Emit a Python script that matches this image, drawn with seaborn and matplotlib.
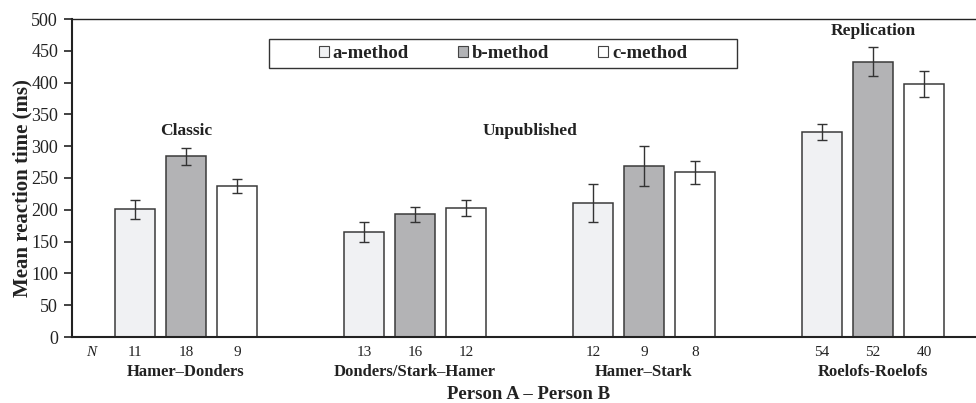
import matplotlib
matplotlib.use("Agg")
import matplotlib.pyplot as plt
from matplotlib.patches import Rectangle
from matplotlib.transforms import blended_transform_factory
import pandas as pd
import seaborn as sns

# --- data -------------------------------------------------------------
pairs = ["Hamer\u2013Donders", "Donders/Stark\u2013Hamer", "Hamer\u2013Stark", "Roelofs-Roelofs"]
methods = ["a-method", "b-method", "c-method"]
a_mean = [201, 165, 211, 322]
b_mean = [284, 193, 269, 433]
c_mean = [237, 203, 259, 398]
a_err = [15, 16, 30, 13]
b_err = [13, 12, 32, 23]
c_err = [11, 13, 18, 21]
a_n = [11, 13, 12, 54]
b_n = [18, 16, 9, 52]
c_n = [9, 12, 8, 40]
group_notes = ["Classic", "Unpublished", "Replication"]
note_x = [0, 1.5, 3]
note_y = [324, 324, 481]

palette = {"a-method": "#f0f1f3", "b-method": "#b2b3b6", "c-method": "#ffffff"}

rows = []
for m, means, errs, ns in zip(methods, [a_mean, b_mean, c_mean],
                              [a_err, b_err, c_err], [a_n, b_n, c_n]):
    for p, v, e, n in zip(pairs, means, errs, ns):
        rows.append({"pair": p, "method": m, "rt": v, "err": e, "n": n})
df = pd.DataFrame(rows)

# --- figure -----------------------------------------------------------
sns.set_theme(style="white")
plt.rcParams["font.family"] = ["Liberation Serif", "DejaVu Serif"]

W, H = 976, 403
fig = plt.figure(figsize=(W / 100, H / 100), dpi=100)
ax = fig.add_axes([72 / W, 1 - 337 / H, (W - 72) / W, (337 - 19) / H])

sns.barplot(data=df, x="pair", y="rt", hue="method", order=pairs,
            hue_order=methods, palette=palette, width=0.668, gap=0.216,
            errorbar=None, edgecolor="#3a3a3a", linewidth=1.1, legend=False,
            ax=ax)

# error bars and group sizes, placed at each bar's centre
trans = blended_transform_factory(ax.transData, ax.transAxes)
bars = [b for b in ax.patches if isinstance(b, Rectangle)][: len(df)]
for bar, (_, row) in zip(bars, df.iterrows()):
    cx = bar.get_x() + bar.get_width() / 2
    ax.errorbar(cx, row["rt"], yerr=row["err"], fmt="none",
                ecolor="#333333", elinewidth=1.0, capsize=3.5, capthick=1.0)
    ax.text(cx, -0.049, str(row["n"]), transform=trans, ha="center",
            va="center", fontsize=11, color="#222222")
ax.text(-0.415, -0.049, "N", transform=trans, ha="center", va="center",
        fontsize=11, style="italic", color="#222222")

for t, x, y in zip(group_notes, note_x, note_y):
    ax.text(x, y, t, ha="center", va="center", fontsize=12.5,
            fontweight="bold", color="#222222")

ax.set_xlim(-0.498, 3.45)
ax.set_ylim(0, 500)
ax.set_yticks(range(0, 501, 50))
ax.tick_params(axis="y", direction="out", length=6, width=1.2,
               labelsize=13, colors="#222222", left=True, pad=4)
ax.tick_params(axis="x", length=0, labelsize=12, pad=19.5)
for lab in ax.get_xticklabels():
    lab.set_fontweight("bold")
    lab.set_color("#222222")

ax.set_xlabel("Person A \u2013 Person B", fontsize=13.5, fontweight="bold",
              color="#222222", va="center")
ax.xaxis.set_label_coords(0.5055, -0.18)
ax.set_ylabel("Mean reaction time (ms)", fontsize=15, fontweight="bold",
              color="#222222", va="center")
ax.yaxis.set_label_coords(-0.0553, 0.467)

for side in ["left", "bottom", "top"]:
    ax.spines[side].set_visible(True)
    ax.spines[side].set_color("#222222")
ax.spines["left"].set_linewidth(1.5)
ax.spines["bottom"].set_linewidth(1.5)
ax.spines["top"].set_linewidth(1.0)
ax.spines["right"].set_visible(False)

# legend inside a plain rectangular frame
handles = [Rectangle((0, 0), 1, 1, facecolor=palette[m], edgecolor="#444444",
                     linewidth=0.8) for m in methods]
box_l, box_r, box_t, box_b = 269, 737, 39, 68
fig.patches.append(Rectangle((box_l / W, 1 - box_b / H), (box_r - box_l) / W,
                             (box_b - box_t) / H, transform=fig.transFigure,
                             facecolor="white", edgecolor="#333333",
                             linewidth=1.0, zorder=5))
leg = fig.legend(handles, methods, loc="center", ncol=3, frameon=False,
                 bbox_to_anchor=((box_l + box_r) / 2 / W,
                                 1 - (box_t + box_b) / 2 / H),
                 handlelength=0.55, handleheight=0.55, handletextpad=0.2,
                 columnspacing=2.6, prop={"weight": "bold", "size": 13.5})
leg.set_zorder(6)
for txt in leg.get_texts():
    txt.set_color("#222222")

fig.savefig("out.png", dpi=100)
